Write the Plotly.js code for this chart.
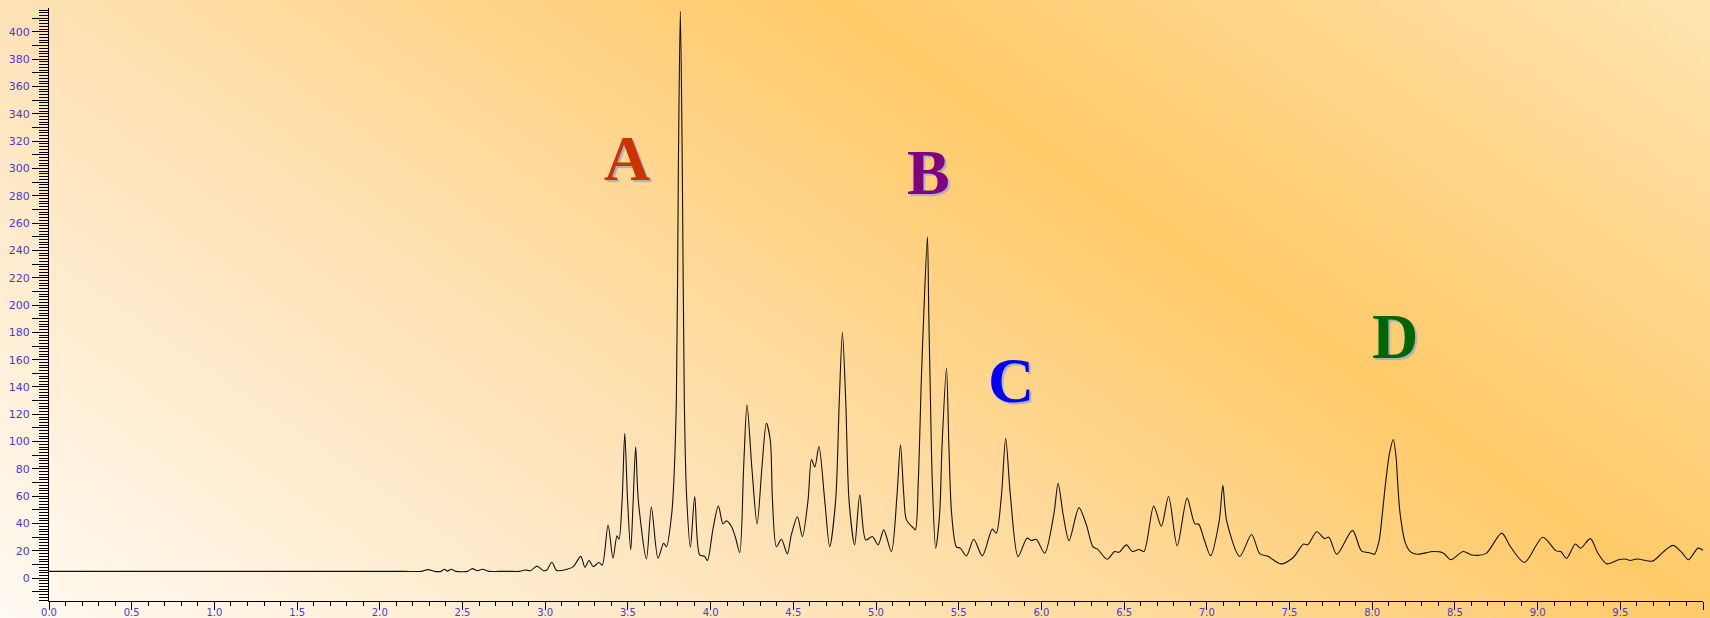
<!DOCTYPE html>
<html>
<head>
<meta charset="utf-8">
<script src="https://cdn.plot.ly/plotly-3.0.1.min.js"></script>
<style>
  html, body { margin: 0; padding: 0; }
  #chart {
    width: 1710px; height: 618px;
    background: linear-gradient(35deg, #fffaf3 0%, #fee3b8 33%, #ffca68 66%, #ffe3b0 100%);
  }
</style>
</head>
<body>
<div id="chart"></div>
<script>
// Retention time (min)
const time = [
  0, 0.5, 1.0, 1.5, 2.0, 2.15, 2.25, 2.29, 2.33, 2.37, 2.39, 2.41, 2.43, 2.46, 2.53, 2.56, 2.59, 2.62, 2.66, 2.72, 2.78, 2.84, 2.88, 2.91, 2.95, 2.99, 3.01,
  3.04, 3.07, 3.13, 3.17, 3.215, 3.24, 3.265, 3.29, 3.325, 3.345, 3.38, 3.41, 3.434, 3.446, 3.465, 3.481, 3.498, 3.517, 3.532, 3.547,
  3.563, 3.612, 3.642, 3.682, 3.716, 3.733, 3.763, 3.773, 3.793, 3.805, 3.817, 3.829, 3.841, 3.855, 3.878, 3.904, 3.934, 3.964, 3.981, 4.015,
  4.047, 4.075, 4.095, 4.126, 4.150, 4.176, 4.200, 4.220, 4.250, 4.281, 4.311, 4.337, 4.361, 4.374, 4.398, 4.428, 4.464, 4.488, 4.525, 4.555,
  4.589, 4.610, 4.630, 4.655, 4.690, 4.720, 4.756, 4.778, 4.797, 4.817, 4.837, 4.871, 4.902, 4.938, 4.978, 5.013, 5.047, 5.093, 5.127, 5.148,
  5.168, 5.184, 5.224, 5.238, 5.256, 5.274, 5.289, 5.311, 5.319, 5.327, 5.340, 5.361, 5.385, 5.399, 5.426, 5.441, 5.457, 5.486, 5.510, 5.547,
  5.591, 5.643, 5.703, 5.727, 5.758, 5.784, 5.813, 5.859, 5.913, 5.940, 5.969, 6.020, 6.076, 6.101, 6.131, 6.167, 6.227, 6.272, 6.312, 6.340,
  6.397, 6.443, 6.470, 6.514, 6.550, 6.590, 6.620, 6.679, 6.725, 6.769, 6.821, 6.881, 6.927, 6.951, 6.985, 7.023, 7.075, 7.097, 7.120, 7.199,
  7.271, 7.320, 7.370, 7.447, 7.521, 7.585, 7.610, 7.665, 7.712, 7.738, 7.786, 7.881, 7.935, 7.988, 8.013, 8.041, 8.062, 8.083, 8.104, 8.127,
  8.145, 8.153, 8.168, 8.200, 8.230, 8.274, 8.369, 8.429, 8.475, 8.550, 8.603, 8.687, 8.783, 8.836, 8.921, 9.031, 9.112, 9.140, 9.175, 9.228,
  9.260, 9.319, 9.366, 9.419, 9.490, 9.530, 9.560, 9.600, 9.695, 9.740, 9.777, 9.820, 9.874, 9.912, 9.970, 10.0
];
// Detector signal
const signal = [
  5, 5, 5, 5, 5, 5, 5, 6.3, 5, 5, 6.5, 5.2, 6.5, 5, 5, 7, 5.5, 6.5, 5, 5, 5, 5, 6, 5.5, 8.8, 5.5, 6,
  11.7, 5.6, 6.5, 8.5, 16, 8, 13, 8.5, 11.5, 9.5, 39, 14.6, 31, 28.5, 57, 106, 57, 20.7, 57, 96,
  57, 14, 52, 14.6, 25.6, 23, 45, 60, 130, 300, 415, 300, 130, 60, 22.7, 59.7, 17, 16, 12.9, 36.5,
  52.9, 39.7, 42, 37.9, 30, 18.7, 82, 127, 80, 39.7, 82, 113.5, 101, 57, 23.1, 28.5, 17.8, 31.7, 45, 30.4,
  57, 86.9, 81.4, 96.4, 57, 23.1, 57, 130, 180, 130, 57, 24.4, 61, 28, 30.5, 24.4, 35.4, 19.5, 61, 97.6,
  61, 42.7, 37, 35.4, 72, 145, 194, 250, 194, 145, 72, 22, 47.5, 96, 153.7, 96, 47.5, 23, 22, 16.3,
  28.5, 16.3, 35.9, 33, 60, 102.5, 60, 15.8, 29.3, 27.6, 28.5, 18.3, 47.5, 69.5, 47, 27.5, 51.7, 39, 23, 21.3,
  13.9, 19.5, 19, 24.4, 19.5, 21, 19.5, 52.9, 38, 60, 23.6, 58.6, 40, 39.5, 28, 16.5, 42, 68, 42, 15.9,
  32, 18, 16, 10.5, 15, 25, 24.5, 34, 29, 30, 17.5, 35, 20, 18.5, 17.5, 27, 48, 72, 91, 101.6,
  88, 72, 48, 26, 19.5, 17.5, 19.5, 18.5, 13.5, 19.5, 17, 18, 33, 23, 11.5, 30, 20, 19.5, 14.5, 25,
  22, 29, 18, 10.5, 13.5, 14, 13, 14, 12.5, 17, 21, 24, 18.5, 13.5, 22, 20.5
];
// Peak labels
const peakLabels = ['A', 'B', 'C', 'D'];
const peakColors = ['#cc3300', '#800080', '#0000ff', '#006600'];

// y tick values every 10, labelled every 20
const yTickVals = [];
const yTickText = [];
for (let v = -10; v <= 410; v += 10) {
  yTickVals.push(v);
  yTickText.push(v % 20 === 0 ? String(v) : '');
}

const labelPos = [
  {x: 3.493, y: 307},
  {x: 5.319, y: 297},
  {x: 5.815, y: 145},
  {x: 8.136, y: 177}
];

const annotations = peakLabels.map((t, i) => ({
  x: labelPos[i].x, y: labelPos[i].y, xref: 'x', yref: 'y',
  text: t, showarrow: false, xanchor: 'center', yanchor: 'middle',
  font: {family: 'Liberation Serif, Times New Roman, serif', size: 64, weight: 'bold',
         color: peakColors[i], shadow: '2px 2px 1px #a9aec2'}
}));

const xTickFont = {family: 'DejaVu Sans, Verdana, sans-serif', size: 10, color: '#4a3acb'};
const yTickFont = {family: 'DejaVu Sans, Verdana, sans-serif', size: 11, color: '#4a3acb'};

const trace = {
  x: time, y: signal, type: 'scatter', mode: 'lines',
  line: {color: '#111111', width: 1.1, shape: 'spline', smoothing: 0.8},
  hoverinfo: 'skip'
};

const layout = {
  width: 1710, height: 618,
  margin: {l: 49, r: 7, t: 8, b: 17, pad: 0},
  paper_bgcolor: 'rgba(0,0,0,0)',
  plot_bgcolor: 'rgba(0,0,0,0)',
  showlegend: false,
  xaxis: {
    range: [0, 10], showgrid: false, zeroline: false,
    showline: true, linecolor: '#000', linewidth: 1,
    ticks: 'outside', ticklen: 8, tickcolor: '#000', tickwidth: 1,
    tick0: 0, dtick: 0.5, tickformat: '.1f', tickfont: xTickFont,
    ticklabelstandoff: -6,
    minor: {ticks: 'outside', ticklen: 4, tickcolor: '#000', dtick: 0.1, tick0: 0, showgrid: false}
  },
  yaxis: {
    range: [-16.7, 417.5], showgrid: false, zeroline: false,
    showline: true, linecolor: '#000', linewidth: 1,
    ticks: 'outside', ticklen: 16, tickcolor: '#000', tickwidth: 1,
    tickmode: 'array', tickvals: yTickVals, ticktext: yTickText, tickfont: yTickFont,
    minor: {ticks: 'outside', ticklen: 9, tickcolor: '#000', dtick: 2, tick0: 0, showgrid: false}
  },
  annotations: annotations
};

Plotly.newPlot('chart', [trace], layout, {displayModeBar: false, staticPlot: true});
</script>
</body>
</html>
